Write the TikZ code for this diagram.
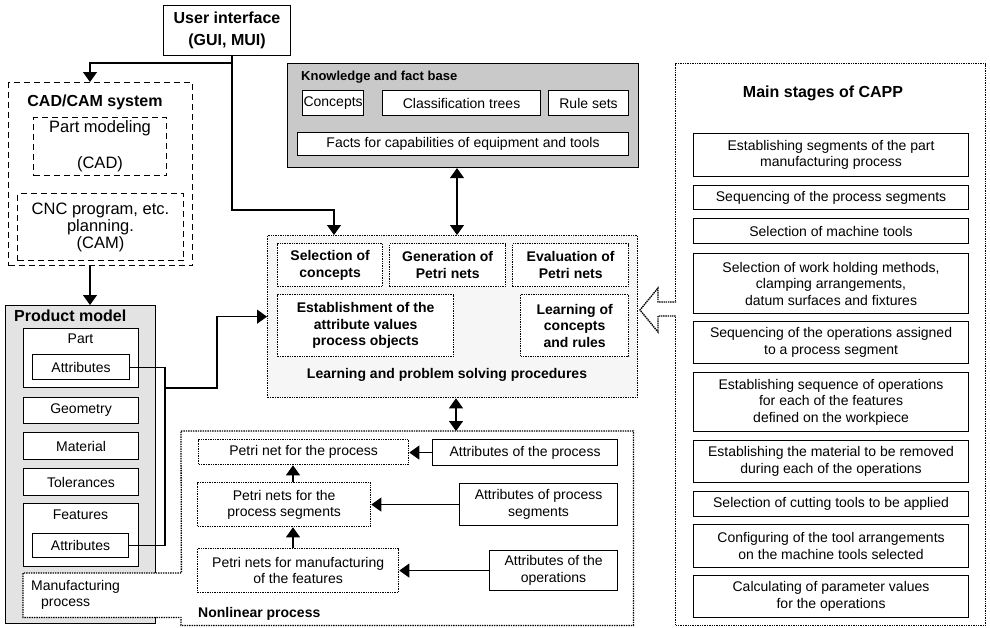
\documentclass[tikz,border=0pt]{standalone}
\usepackage{fontspec}
\setmainfont{Liberation Sans}
\usetikzlibrary{arrows.meta}
\newcommand\fntN{\fontsize{14}{16.5}\selectfont}
\newcommand\fntB{\bfseries\fontsize{14}{16.5}\selectfont}
\newcommand\fntH{\bfseries\fontsize{16}{22}\selectfont}
\newcommand\fntC{\fontsize{16.5}{17}\selectfont}
\newcommand\fntK{\bfseries\fontsize{13}{15}\selectfont}
\newcommand\bx[7]{\node[#1, anchor=north west, minimum width={#5-#3}, minimum height={#6-#4}] (#2) at (#3,#4) {#7};}
\begin{document}
\begin{tikzpicture}[x=1pt,y=-1pt,
  every node/.style={font=\fntN, inner sep=1pt},
  box/.style={draw, line width=1.1pt, fill=white, align=center},
  dbox/.style={box, dash pattern=on 1.4pt off 1pt, line width=1.3pt},
  bbox/.style={dbox, font=\fntB},
  cadbox/.style={box, dash pattern=on 6pt off 4pt, line width=1pt},
  pmbox/.style={draw, line width=1.1pt, fill=gray!22},
  kbbox/.style={draw, line width=1.1pt, fill=gray!42},
  lpbox/.style={draw, line width=1.3pt, fill=gray!7, dash pattern=on 1.4pt off 1pt},
  cappbox/.style={draw, line width=1.3pt, dash pattern=on 1.4pt off 1pt},
  dotln/.style={line width=1.3pt, dash pattern=on 1.4pt off 1pt},
  ln/.style={line width=1.1pt},
  tip/.tip={Triangle[length=10pt,width=14pt]},
  arr/.style={line width=1.1pt, -tip},
  darr/.style={line width=1.1pt, tip-tip}]
\useasboundingbox (0,0) rectangle (990,627);
\fill[white] (0,0) rectangle (990,627);

% ---- containers ----
\bx{cadbox}{cad}{8}{82}{192}{265}{}
\node[font=\fntH] (cadt) at (95,102) {CAD/CAM system};
\bx{pmbox}{pm}{5}{305}{155}{623}{}
\node[font=\fntH, anchor=west] (pmt) at (13,316) {Product model};
\bx{kbbox}{kb}{287}{63}{638}{167}{}
\node[font=\fntK, anchor=west] (kbt) at (300,77) {Knowledge and fact base};
\bx{lpbox}{lp}{267}{235}{637}{397}{}
\node[font=\fntB] (lpt) at (447,375) {Learning and problem solving procedures};
\bx{cappbox}{capp}{675}{63}{985}{625}{}
\node[font=\fntH] (cappt) at (823,93) {Main stages of CAPP};
\bx{draw=none}{nl}{181}{431}{633}{625}{}
\bx{draw=none, fill=white}{mfg}{23}{573}{181}{617}{}
\draw[dotln] (nl.north west) -- (nl.north east) -- (nl.south east) -- (nl.south west)
  -- (nl.west |- mfg.south) -- (mfg.south west) -- (mfg.north west) -- (mfg.north east) -- cycle;
\node[anchor=west, align=left] (mfgt) at (30,595) {Manufacturing\\\hspace*{10pt}process};
\node[font=\fntB, anchor=west] (nlt) at (197,614) {Nonlinear process};

% ---- user interface ----
\bx{box, font=\fntH}{ui}{163}{5}{290}{55}{User interface\\(GUI, MUI)}

% ---- CAD/CAM ----
\bx{cadbox, font=\fntC}{cadpm}{33}{117}{166}{175}{Part modeling\\[19pt](CAD)}
\bx{cadbox, font=\fntC}{cadcnc}{17}{193}{183}{260}{CNC program, etc.\\planning.\\(CAM)}

% ---- product model ----
\bx{box}{part}{23}{328}{138}{387}{}
\node (partt) at (80.5,339) {Part};
\bx{box}{attra}{32}{354}{129}{379}{Attributes}
\bx{box}{geom}{23}{397}{138}{423}{Geometry}
\bx{box}{mat}{23}{432}{138}{459}{Material}
\bx{box}{tol}{23}{468}{138}{495}{Tolerances}
\bx{box}{feat}{23}{503}{138}{566}{}
\node (featt) at (80.5,515) {Features};
\bx{box}{attrb}{32}{533}{128}{557}{Attributes}

% ---- knowledge base ----
\bx{box}{concepts}{302}{90}{363}{115}{Concepts}
\bx{box}{classtrees}{382}{90}{540}{115}{Classification trees}
\bx{box}{rulesets}{548}{90}{628}{115}{Rule sets}
\bx{box}{facts}{297}{132}{628}{155}{Facts for capabilities of equipment and tools}

% ---- learning ----
\bx{bbox}{sel}{277}{243}{382}{286}{Selection of\\concepts}
\bx{bbox}{gen}{389}{243}{505}{286}{Generation of\\Petri nets}
\bx{bbox}{evl}{512}{243}{628}{286}{Evaluation of\\Petri nets}
\bx{bbox}{est}{277}{294}{453}{356}{Establishment of the\\attribute values\\process objects}
\bx{bbox}{lrn}{520}{294}{628}{356}{Learning of\\concepts\\and rules}

% ---- main stages ----
\bx{box}{s1}{693}{133}{968}{176}{Establishing segments of the part\\manufacturing process}
\bx{box}{s2}{693}{185}{968}{209}{Sequencing of the process segments}
\bx{box}{s3}{693}{218}{968}{243}{Selection of machine tools}
\bx{box}{s4}{693}{253}{968}{313}{Selection of work holding methods,\\clamping arrangements,\\datum surfaces and fixtures}
\bx{box}{s5}{693}{321}{968}{363}{Sequencing of the operations assigned\\to a process segment}
\bx{box}{s6}{693}{372}{968}{431}{Establishing sequence of operations\\for each of the features\\defined on the workpiece}
\bx{box}{s7}{693}{440}{968}{482}{Establishing the material to be removed\\during each of the operations}
\bx{box}{s8}{693}{491}{968}{516}{Selection of cutting tools to be applied}
\bx{box}{s9}{693}{524}{968}{567}{Configuring of the tool arrangements\\on the machine tools selected}
\bx{box}{s10}{693}{575}{968}{617}{Calculating of parameter values\\for the operations}

% ---- nonlinear process ----
\bx{dbox}{pnp}{198}{439}{408}{464}{Petri net for the process}
\bx{box}{atp}{432}{439}{617}{465}{Attributes of the process}
\bx{dbox}{pns}{197}{482}{370}{526}{Petri nets for the\\process segments}
\bx{box}{ats}{459}{483}{617}{525}{Attributes of process\\segments}
\bx{dbox}{pnf}{197}{548}{398}{592}{Petri nets for manufacturing\\of the features}
\bx{box}{ato}{489}{550}{617}{590}{Attributes of the\\operations}

% ---- hollow arrow from CAPP ----
\fill[white] (640,310) -- (658,288) -- (658,302) -- (678,302) -- (678,316) -- (658,316) -- (658,332) -- cycle;
\draw[line width=1.4pt, dash pattern=on 1.4pt off 0.8pt, line join=miter]
  (676,302) -- (658,302) -- (658,288) -- (640,310) -- (658,332) -- (658,316) -- (676,316);

% ---- connectors ----
\coordinate (ux) at (232,0);
\coordinate (ubend) at (232,210);
\coordinate (lpx) at (334,0);
\draw[arr] (ui.south -| ux) -- (ubend) -| (lp.north -| lpx);
\coordinate (cbr) at (232,63);
\coordinate (cx) at (90,0);
\draw[arr] (cbr) -| (cad.north -| cx);
\draw[arr] (cad.south -| cx) -- (pm.north -| cx);

\coordinate (bx) at (165,0);
\draw[ln] (attra.east) -- (attra.east -| bx) -- (attrb.east -| bx) -- (attrb.east);
\coordinate (bj) at (165,388);
\coordinate (bk) at (217,388);
\draw[arr] (bj) -- (bk) |- (lp.west);

\coordinate (kx) at (457,0);
\draw[darr] (kb.south -| kx) -- (lp.north -| kx);
\coordinate (nx) at (456,0);
\draw[darr] (lp.south -| nx) -- (nl.north -| nx);

\draw[arr] (atp.west) -- (pnp.east |- atp.west);
\draw[arr] (ats.west) -- (pns.east |- ats.west);
\draw[arr] (ato.west) -- (pnf.east |- ato.west);
\coordinate (vx) at (293,0);
\draw[arr] (pnf.north -| vx) -- (pns.south -| vx);
\draw[arr] (pns.north -| vx) -- (pnp.south -| vx);
\end{tikzpicture}
\end{document}
